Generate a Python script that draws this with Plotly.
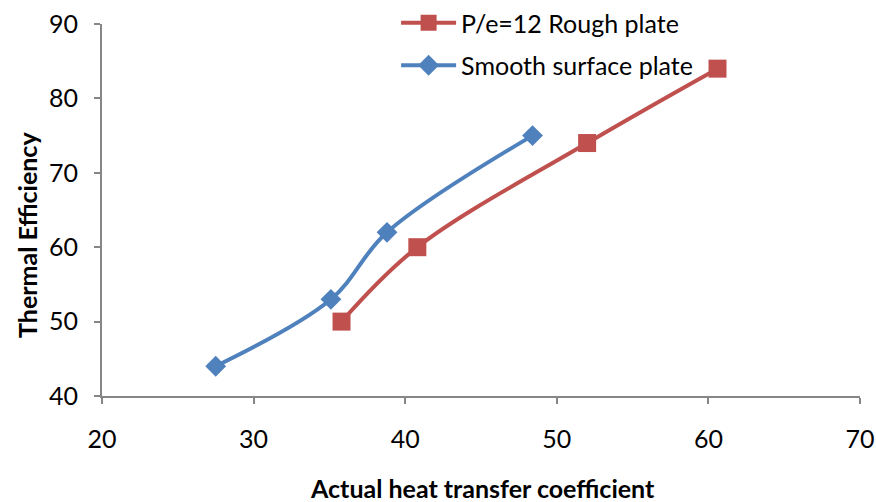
import plotly.graph_objects as go

rough_x = [35.8, 40.8, 52.0, 60.6]
rough_y = [50, 60, 74, 84]
smooth_x = [27.5, 35.1, 38.8, 48.4]
smooth_y = [44, 53, 62, 75]

font = "Lato, 'Open Sans', sans-serif"

fig = go.Figure()
fig.add_trace(go.Scatter(
    x=rough_x, y=rough_y, mode="lines+markers", name="P/e=12 Rough plate",
    line=dict(color="#C0504D", width=4, shape="spline", smoothing=1.0),
    marker=dict(symbol="square", size=18, color="#C0504D"),
    legendgroup="a"))
fig.add_trace(go.Scatter(
    x=smooth_x, y=smooth_y, mode="lines+markers", name="Smooth surface plate",
    line=dict(color="#4F81BD", width=4, shape="spline", smoothing=1.0),
    marker=dict(symbol="diamond", size=16, color="#4F81BD"),
    legendgroup="b"))

fig.update_layout(
    width=876, height=502,
    margin=dict(l=102, r=16, t=24, b=106, autoexpand=False),
    paper_bgcolor="white", plot_bgcolor="white",
    font=dict(family=font, size=25, color="black"),
    showlegend=True,
    legend=dict(x=0.388, y=1.0, xref="paper", yref="container",
                xanchor="left", yanchor="top", itemwidth=55,
                font=dict(size=25), tracegroupgap=7, traceorder="grouped",
                bgcolor="rgba(0,0,0,0)"),
    xaxis=dict(range=[20, 70], dtick=10, showgrid=False, zeroline=False,
               showline=True, linecolor="#868686", linewidth=2,
               ticks="outside", ticklen=6, tickcolor="#868686", tickwidth=2,
               tickfont=dict(size=25), ticklabelstandoff=14, automargin=False),
    yaxis=dict(range=[40, 90], dtick=10, showgrid=False, zeroline=False,
               showline=True, linecolor="#868686", linewidth=2,
               ticks="outside", ticklen=6, tickcolor="#868686", tickwidth=2,
               tickfont=dict(size=25), ticklabelstandoff=11, automargin=False),
    annotations=[
        dict(text="<b>Actual heat transfer coefficient</b>", xref="paper", yref="paper",
             x=(482 - 102) / 758, y=-(488 - 396) / 372, xanchor="center", yanchor="middle",
             showarrow=False, font=dict(size=25)),
        dict(text="<b>Thermal Efficiency</b>", xref="paper", yref="paper",
             x=-(102 - 27) / 758, y=(396 - 235) / 372, xanchor="center", yanchor="middle",
             textangle=-90, showarrow=False, font=dict(size=25)),
    ],
)

fig.write_html("out.html", config={"displayModeBar": False},
               post_script="document.body.style.margin='0';")
